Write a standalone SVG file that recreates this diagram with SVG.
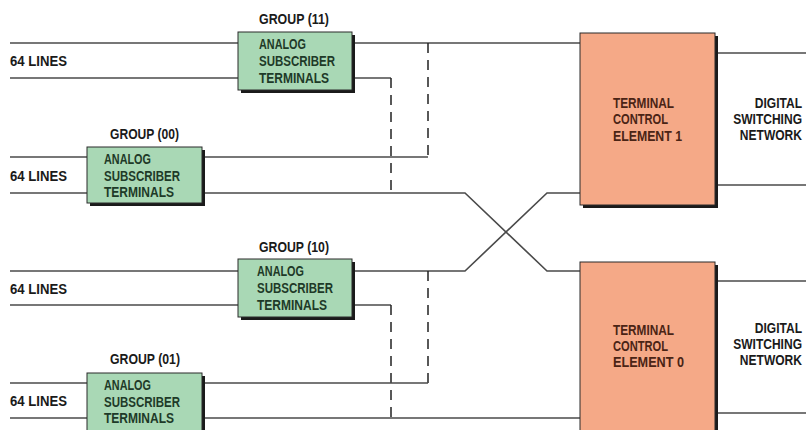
<svg xmlns="http://www.w3.org/2000/svg" width="806" height="430" viewBox="0 0 806 430">
<style>
.ln{stroke:#4a4a4a;stroke-width:1.6;fill:none}
.dash{stroke:#222;stroke-width:1.5;fill:none;stroke-dasharray:10 7}
.shadow{fill:#1a1a1a}
.ast{fill:#a9d8b5;stroke:#2a2a2a;stroke-width:1}
.tce{fill:#f5a987;stroke:#2a2a2a;stroke-width:1}
text{font-family:"Liberation Sans",Arial,sans-serif;font-size:14px}
.lbl{font-weight:bold;fill:#1a1a1a}
.bt{font-weight:bold;fill:#1e3a28}
.tt{font-weight:bold;fill:#4a2415}
</style>
<rect width="806" height="430" fill="#ffffff"/>
<g id="connectors">
<line class="ln" x1="10" y1="43" x2="238" y2="43"/>
<line class="ln" x1="10" y1="78" x2="238" y2="78"/>
<line class="ln" x1="352" y1="43" x2="580" y2="43"/>
<polyline class="ln" points="352,78 391,78"/>
<line class="dash" x1="391" y1="78" x2="391" y2="193"/>
<line class="dash" x1="428" y1="43" x2="428" y2="157"/>
<line class="ln" x1="10" y1="157" x2="87" y2="157"/>
<line class="ln" x1="10" y1="193" x2="87" y2="193"/>
<line class="ln" x1="202" y1="157" x2="428" y2="157"/>
<polyline class="ln" points="202,193 465,193 547,271 580,271"/>
<line class="ln" x1="10" y1="271" x2="238" y2="271"/>
<line class="ln" x1="10" y1="305" x2="238" y2="305"/>
<polyline class="ln" points="352,271 465,271 547,193 580,193"/>
<line class="ln" x1="352" y1="305" x2="391" y2="305"/>
<line class="dash" x1="391" y1="305" x2="391" y2="418"/>
<line class="dash" x1="428" y1="271" x2="428" y2="383"/>
<line class="ln" x1="10" y1="383" x2="87" y2="383"/>
<line class="ln" x1="10" y1="418" x2="87" y2="418"/>
<line class="ln" x1="202" y1="383" x2="428" y2="383"/>
<line class="ln" x1="202" y1="418" x2="580" y2="418"/>
<line class="ln" x1="715" y1="53" x2="806" y2="53"/>
<line class="ln" x1="715" y1="185" x2="806" y2="185"/>
<line class="ln" x1="715" y1="281" x2="806" y2="281"/>
<line class="ln" x1="715" y1="413" x2="806" y2="413"/>
</g>
<g id="lines-labels">
<text class="lbl" x="10" y="66" textLength="57" lengthAdjust="spacingAndGlyphs">64 LINES</text>
<text class="lbl" x="10" y="181" textLength="57" lengthAdjust="spacingAndGlyphs">64 LINES</text>
<text class="lbl" x="10" y="294" textLength="57" lengthAdjust="spacingAndGlyphs">64 LINES</text>
<text class="lbl" x="10" y="406" textLength="57" lengthAdjust="spacingAndGlyphs">64 LINES</text>
</g>
<g id="group11">
<text class="lbl" x="259" y="24" textLength="70" lengthAdjust="spacingAndGlyphs">GROUP (11)</text>
<rect class="shadow" x="241" y="35" width="114" height="58"/>
<rect class="ast" x="238" y="32" width="114" height="58"/>
<text class="bt" x="259" y="49" textLength="47" lengthAdjust="spacingAndGlyphs">ANALOG</text>
<text class="bt" x="259" y="66" textLength="76" lengthAdjust="spacingAndGlyphs">SUBSCRIBER</text>
<text class="bt" x="259" y="83" textLength="70" lengthAdjust="spacingAndGlyphs">TERMINALS</text>
</g>
<g id="group00">
<text class="lbl" x="110" y="139" textLength="69" lengthAdjust="spacingAndGlyphs">GROUP (00)</text>
<rect class="shadow" x="90" y="150" width="115" height="56"/>
<rect class="ast" x="87" y="147" width="115" height="56"/>
<text class="bt" x="104" y="164" textLength="47" lengthAdjust="spacingAndGlyphs">ANALOG</text>
<text class="bt" x="104" y="181" textLength="76" lengthAdjust="spacingAndGlyphs">SUBSCRIBER</text>
<text class="bt" x="104" y="197" textLength="70" lengthAdjust="spacingAndGlyphs">TERMINALS</text>
</g>
<g id="group10">
<text class="lbl" x="259" y="252" textLength="70" lengthAdjust="spacingAndGlyphs">GROUP (10)</text>
<rect class="shadow" x="241" y="262" width="114" height="58"/>
<rect class="ast" x="238" y="259" width="114" height="58"/>
<text class="bt" x="257" y="276" textLength="47" lengthAdjust="spacingAndGlyphs">ANALOG</text>
<text class="bt" x="257" y="293" textLength="76" lengthAdjust="spacingAndGlyphs">SUBSCRIBER</text>
<text class="bt" x="257" y="310" textLength="70" lengthAdjust="spacingAndGlyphs">TERMINALS</text>
</g>
<g id="group01">
<text class="lbl" x="110" y="364" textLength="70" lengthAdjust="spacingAndGlyphs">GROUP (01)</text>
<rect class="shadow" x="90" y="376" width="115" height="60"/>
<rect class="ast" x="87" y="373" width="115" height="60"/>
<text class="bt" x="104" y="390" textLength="47" lengthAdjust="spacingAndGlyphs">ANALOG</text>
<text class="bt" x="104" y="407" textLength="76" lengthAdjust="spacingAndGlyphs">SUBSCRIBER</text>
<text class="bt" x="104" y="423" textLength="70" lengthAdjust="spacingAndGlyphs">TERMINALS</text>
</g>
<g id="tce1">
<rect class="shadow" x="583" y="36" width="135" height="172"/>
<rect class="tce" x="580" y="33" width="135" height="172"/>
<text class="tt" x="613" y="108" textLength="61" lengthAdjust="spacingAndGlyphs">TERMINAL</text>
<text class="tt" x="613" y="124" textLength="55" lengthAdjust="spacingAndGlyphs">CONTROL</text>
<text class="tt" x="613" y="141" textLength="69" lengthAdjust="spacingAndGlyphs">ELEMENT 1</text>
</g>
<g id="tce0">
<rect class="shadow" x="583" y="265" width="135" height="175"/>
<rect class="tce" x="580" y="262" width="135" height="175"/>
<text class="tt" x="613" y="335" textLength="61" lengthAdjust="spacingAndGlyphs">TERMINAL</text>
<text class="tt" x="613" y="351" textLength="55" lengthAdjust="spacingAndGlyphs">CONTROL</text>
<text class="tt" x="613" y="367" textLength="71" lengthAdjust="spacingAndGlyphs">ELEMENT 0</text>
</g>
<g id="dsn1" transform="translate(802,0) scale(0.86,1)">
<text class="lbl" x="0" y="108" text-anchor="end">DIGITAL</text>
<text class="lbl" x="0" y="124" text-anchor="end">SWITCHING</text>
<text class="lbl" x="0" y="140" text-anchor="end">NETWORK</text>
</g>
<g id="dsn0" transform="translate(802,0) scale(0.86,1)">
<text class="lbl" x="0" y="333" text-anchor="end">DIGITAL</text>
<text class="lbl" x="0" y="349" text-anchor="end">SWITCHING</text>
<text class="lbl" x="0" y="365" text-anchor="end">NETWORK</text>
</g>
</svg>
